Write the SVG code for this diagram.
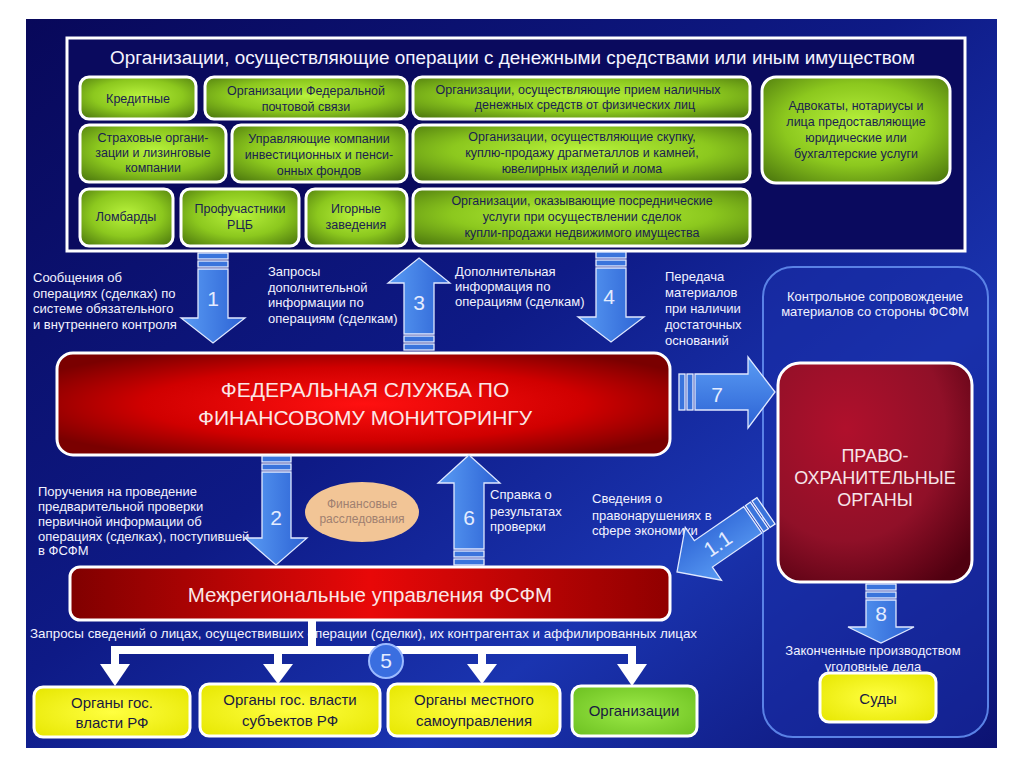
<svg xmlns="http://www.w3.org/2000/svg" width="1024" height="767" viewBox="0 0 1024 767">
<defs>
<linearGradient id="bg" x1="0" y1="0" x2="1" y2="1">
<stop offset="0" stop-color="#08085a"/>
<stop offset="0.45" stop-color="#0e1a86"/>
<stop offset="0.7" stop-color="#1a34b0"/>
<stop offset="1" stop-color="#0c1272"/>
</linearGradient>
<radialGradient id="green" cx="0.5" cy="0.45" r="0.7">
<stop offset="0" stop-color="#b8f23c"/>
<stop offset="0.55" stop-color="#8cc81e"/>
<stop offset="1" stop-color="#4e7a0e"/>
</radialGradient>
<radialGradient id="red" cx="0.5" cy="0.5" r="0.6">
<stop offset="0" stop-color="#ff1010"/>
<stop offset="0.6" stop-color="#d00000"/>
<stop offset="1" stop-color="#7a0000"/>
</radialGradient>
<linearGradient id="red2" x1="0" y1="0" x2="1" y2="0">
<stop offset="0" stop-color="#800000"/>
<stop offset="0.5" stop-color="#e80808"/>
<stop offset="1" stop-color="#900000"/>
</linearGradient>
<radialGradient id="crimson" cx="0.35" cy="0.3" r="0.85">
<stop offset="0" stop-color="#b0102c"/>
<stop offset="0.6" stop-color="#901028"/>
<stop offset="1" stop-color="#500010"/>
</radialGradient>
<radialGradient id="yellow" cx="0.5" cy="0.5" r="0.7">
<stop offset="0" stop-color="#ffff40"/>
<stop offset="1" stop-color="#e6e600"/>
</radialGradient>
<radialGradient id="lgreen" cx="0.5" cy="0.5" r="0.7">
<stop offset="0" stop-color="#9cea48"/>
<stop offset="1" stop-color="#6cc020"/>
</radialGradient>
<linearGradient id="arrowV" x1="0" y1="0" x2="1" y2="0">
<stop offset="0" stop-color="#5a9cf4"/>
<stop offset="1" stop-color="#2c62d4"/>
</linearGradient>
<linearGradient id="arrowH" x1="0" y1="0" x2="0" y2="1">
<stop offset="0" stop-color="#5a9cf4"/>
<stop offset="1" stop-color="#2c62d4"/>
</linearGradient>
<style>
.gbox{fill:url(#green);stroke:#ffffff;stroke-width:3}
.gt{font-family:"Liberation Sans",Arial,sans-serif;font-size:12.5px;fill:#1a2250;text-anchor:middle}
.lbl{font-family:"Liberation Sans",Arial,sans-serif;font-size:13px;fill:#f2f2ff}
.num{font-family:"Liberation Sans",Arial,sans-serif;font-size:21px;fill:#e4ecff;text-anchor:middle}
.arr{fill:url(#arrowV);stroke:#dfe8ff;stroke-width:1.3}
.arrh{fill:url(#arrowH);stroke:#dfe8ff;stroke-width:1.3}
.stripe{fill:#3a74dc;stroke:#e8efff;stroke-width:1.3}
.ybox{fill:url(#yellow);stroke:#ffffff;stroke-width:3}
.bt{font-family:"Liberation Sans",Arial,sans-serif;font-size:15px;fill:#1a1a40;text-anchor:middle}
.white{fill:#ffffff}
</style>
</defs>
<rect x="0" y="0" width="1024" height="767" fill="#ffffff"/>
<rect x="26" y="19" width="971" height="729" fill="url(#bg)"/>

<g id="top-frame">
<rect x="67" y="38" width="898" height="213" fill="#0a0a5e" stroke="#ffffff" stroke-width="3"/>
<text x="110" y="64" font-family="Liberation Sans, Arial, sans-serif" font-size="18px" fill="#f4f4ff" textLength="805" lengthAdjust="spacingAndGlyphs">Организации, осуществляющие операции с денежными средствами или иным имуществом</text>
</g>

<g id="n-kred"><rect class="gbox" x="80" y="77" width="116" height="42" rx="9"/><text class="gt" x="138" y="103">Кредитные</text></g>
<g id="n-post"><rect class="gbox" x="205" y="77" width="202" height="42" rx="9"/><text class="gt" x="306" y="95">Организации Федеральной</text><text class="gt" x="306" y="111">почтовой связи</text></g>
<g id="n-cash"><rect class="gbox" x="413" y="77" width="337" height="42" rx="9"/><text class="gt" x="578" y="94">Организации, осуществляющие прием наличных</text><text class="gt" x="585" y="109">денежных средств от физических лиц</text></g>
<g id="n-advok"><rect class="gbox" x="762" y="77" width="188" height="106" rx="14"/><text class="gt" x="856" y="110">Адвокаты, нотариусы и</text><text class="gt" x="856" y="126">лица предоставляющие</text><text class="gt" x="856" y="142">юридические или</text><text class="gt" x="856" y="158">бухгалтерские услуги</text></g>
<g id="n-strah"><rect class="gbox" x="80" y="125" width="146" height="57" rx="9"/><text class="gt" x="153" y="142">Страховые органи-</text><text class="gt" x="153" y="157">зации  и лизинговые</text><text class="gt" x="153" y="172">компании</text></g>
<g id="n-uprav"><rect class="gbox" x="232" y="125" width="175" height="57" rx="9"/><text class="gt" x="319" y="143">Управляющие компании</text><text class="gt" x="319" y="159">инвестиционных и пенси-</text><text class="gt" x="319" y="175">онных фондов</text></g>
<g id="n-skup"><rect class="gbox" x="413" y="125" width="337" height="57" rx="9"/><text class="gt" x="582" y="141">Организации, осуществляющие скупку,</text><text class="gt" x="582" y="157">куплю-продажу драгметаллов и камней,</text><text class="gt" x="582" y="173">ювелирных изделий и лома</text></g>
<g id="n-lomb"><rect class="gbox" x="80" y="189" width="93" height="57" rx="9"/><text class="gt" x="126" y="221">Ломбарды</text></g>
<g id="n-prof"><rect class="gbox" x="181" y="189" width="118" height="57" rx="9"/><text class="gt" x="240" y="213">Профучастники</text><text class="gt" x="240" y="229">РЦБ</text></g>
<g id="n-igor"><rect class="gbox" x="306" y="189" width="101" height="57" rx="9"/><text class="gt" x="356" y="213">Игорные</text><text class="gt" x="356" y="229">заведения</text></g>
<g id="n-posr"><rect class="gbox" x="413" y="189" width="337" height="57" rx="9"/><text class="gt" x="582" y="205">Организации, оказывающие посреднические</text><text class="gt" x="582" y="221">услуги при осуществлении сделок</text><text class="gt" x="582" y="237">купли-продажи недвижимого имущества</text></g>

<g id="n-control-panel">
<rect x="763" y="267" width="225" height="470" rx="30" fill="#1a2ea8" fill-opacity="0.55" stroke="#5a82e6" stroke-width="2"/>
<text class="lbl" x="875" y="301" text-anchor="middle" font-size="12px">Контрольное сопровождение</text>
<text class="lbl" x="875" y="316" text-anchor="middle" font-size="12px">материалов со стороны ФСФМ</text>
</g>

<g id="n-fsfm">
<rect x="57" y="353" width="613" height="102" rx="16" fill="url(#red)" stroke="#ffffff" stroke-width="3"/>
<text x="365" y="397" text-anchor="middle" font-family="Liberation Sans, Arial, sans-serif" font-size="21px" fill="#fbe6e6">ФЕДЕРАЛЬНАЯ СЛУЖБА ПО</text>
<text x="365" y="425" text-anchor="middle" font-family="Liberation Sans, Arial, sans-serif" font-size="21px" fill="#fbe6e6">ФИНАНСОВОМУ МОНИТОРИНГУ</text>
</g>

<g id="n-pravo">
<rect x="778" y="363" width="194" height="219" rx="22" fill="url(#crimson)" stroke="#ffffff" stroke-width="3"/>
<text x="875" y="462" text-anchor="middle" font-family="Liberation Sans, Arial, sans-serif" font-size="18px" fill="#f6e4e8">ПРАВО-</text>
<text x="875" y="484" text-anchor="middle" font-family="Liberation Sans, Arial, sans-serif" font-size="18px" fill="#f6e4e8">ОХРАНИТЕЛЬНЫЕ</text>
<text x="875" y="506" text-anchor="middle" font-family="Liberation Sans, Arial, sans-serif" font-size="18px" fill="#f6e4e8">ОРГАНЫ</text>
</g>

<g id="n-fin">
<ellipse cx="362" cy="512" rx="57" ry="30" fill="#f2c596"/>
<text x="362" y="508" text-anchor="middle" font-family="Liberation Sans, Arial, sans-serif" font-size="12px" fill="#a08070">Финансовые</text>
<text x="362" y="523" text-anchor="middle" font-family="Liberation Sans, Arial, sans-serif" font-size="12px" fill="#a08070">расследования</text>
</g>

<g id="n-mezh">
<rect x="70" y="567" width="600" height="53" rx="10" fill="url(#red2)" stroke="#ffffff" stroke-width="3"/>
<text x="370" y="602" text-anchor="middle" font-family="Liberation Sans, Arial, sans-serif" font-size="20.5px" fill="#fbe6e6">Межрегиональные управления ФСФМ</text>
</g>

<g id="n-org1"><rect class="ybox" x="34" y="687" width="156" height="50" rx="9"/><text class="bt" x="112" y="708">Органы гос.</text><text class="bt" x="112" y="728">власти РФ</text></g>
<g id="n-org2"><rect class="ybox" x="200" y="684" width="180" height="52" rx="9"/><text class="bt" x="290" y="705">Органы гос. власти</text><text class="bt" x="290" y="726">субъектов РФ</text></g>
<g id="n-org3"><rect class="ybox" x="388" y="684" width="172" height="52" rx="9"/><text class="bt" x="474" y="705">Органы местного</text><text class="bt" x="474" y="726">самоуправления</text></g>
<g id="n-org4"><rect x="572" y="686" width="125" height="50" rx="9" fill="url(#lgreen)" stroke="#ffffff" stroke-width="3"/><text class="bt" x="634" y="716">Организации</text></g>
<g id="n-sudy"><rect class="ybox" x="820" y="673" width="116" height="49" rx="9"/><text class="bt" x="878" y="704" font-size="16px">Суды</text></g>

<g id="labels">
<text class="lbl" x="33" y="282">Сообщения об</text>
<text class="lbl" x="33" y="298">операциях (сделках) по</text>
<text class="lbl" x="33" y="313">системе обязательного</text>
<text class="lbl" x="33" y="329">и внутреннего контроля</text>
<text class="lbl" x="268" y="276">Запросы</text>
<text class="lbl" x="268" y="292">дополнительной</text>
<text class="lbl" x="268" y="307">информации по</text>
<text class="lbl" x="268" y="323">операциям (сделкам)</text>
<text class="lbl" x="455" y="276">Дополнительная</text>
<text class="lbl" x="455" y="291">информация по</text>
<text class="lbl" x="455" y="306">операциям (сделкам)</text>
<text class="lbl" x="665" y="281">Передача</text>
<text class="lbl" x="665" y="297">материалов</text>
<text class="lbl" x="665" y="313">при наличии</text>
<text class="lbl" x="665" y="329">достаточных</text>
<text class="lbl" x="665" y="345">оснований</text>
<text class="lbl" x="38" y="496">Поручения на проведение</text>
<text class="lbl" x="38" y="511">предварительной проверки</text>
<text class="lbl" x="38" y="526">первичной информации об</text>
<text class="lbl" x="38" y="541">операциях (сделках), поступившей</text>
<text class="lbl" x="38" y="555">в ФСФМ</text>
<text class="lbl" x="490" y="499">Справка о</text>
<text class="lbl" x="490" y="516">результатах</text>
<text class="lbl" x="490" y="531">проверки</text>
<text class="lbl" x="592" y="503">Сведения о</text>
<text class="lbl" x="592" y="520">правонарушениях в</text>
<text class="lbl" x="592" y="535">сфере экономики</text>
<text class="lbl" x="873" y="655" text-anchor="middle" font-size="12.5px">Законченные производством</text>
<text class="lbl" x="873" y="671" text-anchor="middle" font-size="12.5px">уголовные дела</text>
<text class="lbl" x="30" y="638" font-size="12px" textLength="667" lengthAdjust="spacingAndGlyphs">Запросы сведений о лицах, осуществивших операции (сделки), их контрагентах и аффилированных лицах</text>
</g>

<g id="connectors">
<rect class="stripe" x="198" y="253" width="30" height="6"/>
<rect class="stripe" x="198" y="261" width="30" height="6"/>
<path class="arr" d="M198,269 H228 V318 H245 L213,343 L181,318 H198 Z"/>
<text class="num" x="213" y="306">1</text>
<path class="arr" d="M419,258 L450,283 H434 V334 H404 V283 H388 Z"/>
<rect class="stripe" x="404" y="336" width="30" height="6"/>
<rect class="stripe" x="404" y="344" width="30" height="6"/>
<text class="num" x="419" y="310">3</text>
<rect class="stripe" x="596" y="252" width="30" height="6"/>
<rect class="stripe" x="596" y="260" width="30" height="6"/>
<path class="arr" d="M596,268 H626 V317 H644 L611,342 L578,317 H596 Z"/>
<text class="num" x="609" y="304">4</text>
<rect class="stripe" x="679" y="374" width="6" height="36"/>
<rect class="stripe" x="687" y="374" width="6" height="36"/>
<path class="arrh" d="M695,374 V410 H748 V428 L775,392 L748,357 V374 Z"/>
<text class="num" x="717" y="402">7</text>
<rect class="stripe" x="262" y="456" width="29" height="6"/>
<rect class="stripe" x="262" y="464" width="29" height="6"/>
<path class="arr" d="M262,472 H291 V538 H307 L276,565 L245,538 H262 Z"/>
<text class="num" x="276" y="525">2</text>
<path class="arr" d="M469,455 L500,483 H484 V549 H454 V483 H438 Z"/>
<rect class="stripe" x="454" y="551" width="30" height="6"/>
<rect class="stripe" x="454" y="559" width="30" height="6"/>
<text class="num" x="469" y="525">6</text>
<rect class="stripe" x="866" y="584" width="30" height="6"/>
<rect class="stripe" x="866" y="592" width="30" height="6"/>
<path class="arr" d="M866,600 H896 V627 H914 L881,643 L848,627 H866 Z"/>
<text class="num" x="881" y="621">8</text>
<g transform="translate(677,572) rotate(145.5)">
<rect class="stripe" x="-108" y="-16" width="6" height="32"/>
<rect class="stripe" x="-100" y="-16" width="6" height="32"/>
<path class="arrh" d="M-92,-16 H-32 V-32 L0,0 L-32,32 V16 H-92 Z"/>
</g>
<text class="num" x="718" y="551" transform="rotate(-34.5 718 544)">1.1</text>
<rect class="white" x="308" y="620" width="8" height="30"/>
<rect class="white" x="111" y="646" width="525" height="8"/>
<rect class="white" x="111" y="650" width="8" height="14"/>
<path class="white" d="M100,664 H130 L115,686 Z"/>
<rect class="white" x="274" y="650" width="8" height="14"/>
<path class="white" d="M263,664 H293 L278,684 Z"/>
<rect class="white" x="478" y="650" width="8" height="14"/>
<path class="white" d="M467,664 H497 L482,684 Z"/>
<rect class="white" x="628" y="650" width="8" height="14"/>
<path class="white" d="M617,664 H647 L632,686 Z"/>
<circle cx="386" cy="661" r="17" fill="#3a6ee0" stroke="#9cbaff" stroke-width="2"/>
<text class="num" x="386" y="668">5</text>
</g>
</svg>
